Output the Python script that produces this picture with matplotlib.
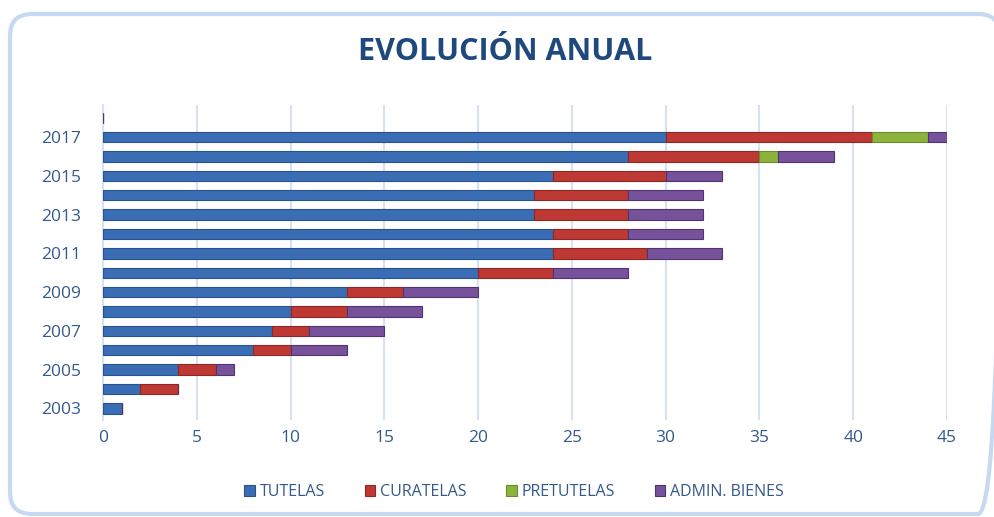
import matplotlib.pyplot as plt
from matplotlib.patches import FancyBboxPatch
import numpy as np

# datos (2003 -> 2018)
years = list(range(2003, 2019))
tutelas = [1, 2, 4, 8, 9, 10, 13, 20, 24, 24, 23, 23, 24, 28, 30, 0]
curatelas = [0, 2, 2, 2, 2, 3, 3, 4, 5, 4, 5, 5, 6, 7, 11, 0]
pretutelas = [0, 0, 0, 0, 0, 0, 0, 0, 0, 0, 0, 0, 0, 1, 3, 0]
admin_bienes = [0, 0, 1, 3, 4, 4, 4, 4, 4, 4, 4, 4, 3, 3, 1, 0]

series = [
    ('TUTELAS', tutelas, '#3A6DB3', '#2A5290'),
    ('CURATELAS', curatelas, '#BE3834', '#8E2824'),
    ('PRETUTELAS', pretutelas, '#8CB43C', '#6A8C2A'),
    ('ADMIN. BIENES', admin_bienes, '#77529B', '#4E3470'),
]

TEXT_COLOR = '#34598A'
GRID_COLOR = '#D6E2F3'

plt.rcParams['font.family'] = ['Open Sans', 'DejaVu Sans']

W, H = 994, 517
fig = plt.figure(figsize=(W / 100, H / 100), dpi=100)

# marco redondeado, en pixeles
bg = fig.add_axes([0, 0, 1, 1])
bg.set_xlim(0, W)
bg.set_ylim(H, 0)
bg.axis('off')
bg.add_patch(FancyBboxPatch((10, 14), 990, 500,
                            boxstyle='round,pad=0,rounding_size=22',
                            fill=False, edgecolor='#C6D9F1', linewidth=3))

ax = fig.add_axes([0.1036, 0.1876, 0.8491, 0.609])

pos = np.arange(len(years))
left = np.zeros(len(years))
for name, vals, color, edge in series:
    vals = np.array(vals, dtype=float)
    ax.barh(pos, vals, left=left, height=0.54, color=color,
            edgecolor=edge, linewidth=0.8, label=name, zorder=3)
    left += vals

ax.set_xlim(0, 45)
ax.set_ylim(-0.6, len(years) - 0.35)
ax.set_xticks(range(0, 46, 5))
ax.set_yticks(pos[::2])
ax.set_yticklabels([str(y) for y in years[::2]])

ax.grid(axis='x', color=GRID_COLOR, linewidth=1.5, zorder=0)
for side in ['top', 'right', 'bottom']:
    ax.spines[side].set_visible(False)
ax.spines['left'].set_color(GRID_COLOR)
ax.spines['left'].set_linewidth(1.5)
ax.tick_params(axis='both', length=0, labelsize=12.5, colors=TEXT_COLOR)
ax.tick_params(axis='x', pad=7)
ax.tick_params(axis='y', pad=16)

fig.text(0.508, 0.9, 'EVOLUCIÓN ANUAL', ha='center', va='center',
         fontsize=22, fontweight='bold', color='#1F497D')

fig.legend(loc='center', bbox_to_anchor=(0.517, 0.048), ncol=4, frameon=False,
           fontsize=11.5, labelcolor=TEXT_COLOR, handlelength=0.65,
           handleheight=0.65, handletextpad=0.3, columnspacing=2.5)

fig.savefig('out.png', dpi=100)
